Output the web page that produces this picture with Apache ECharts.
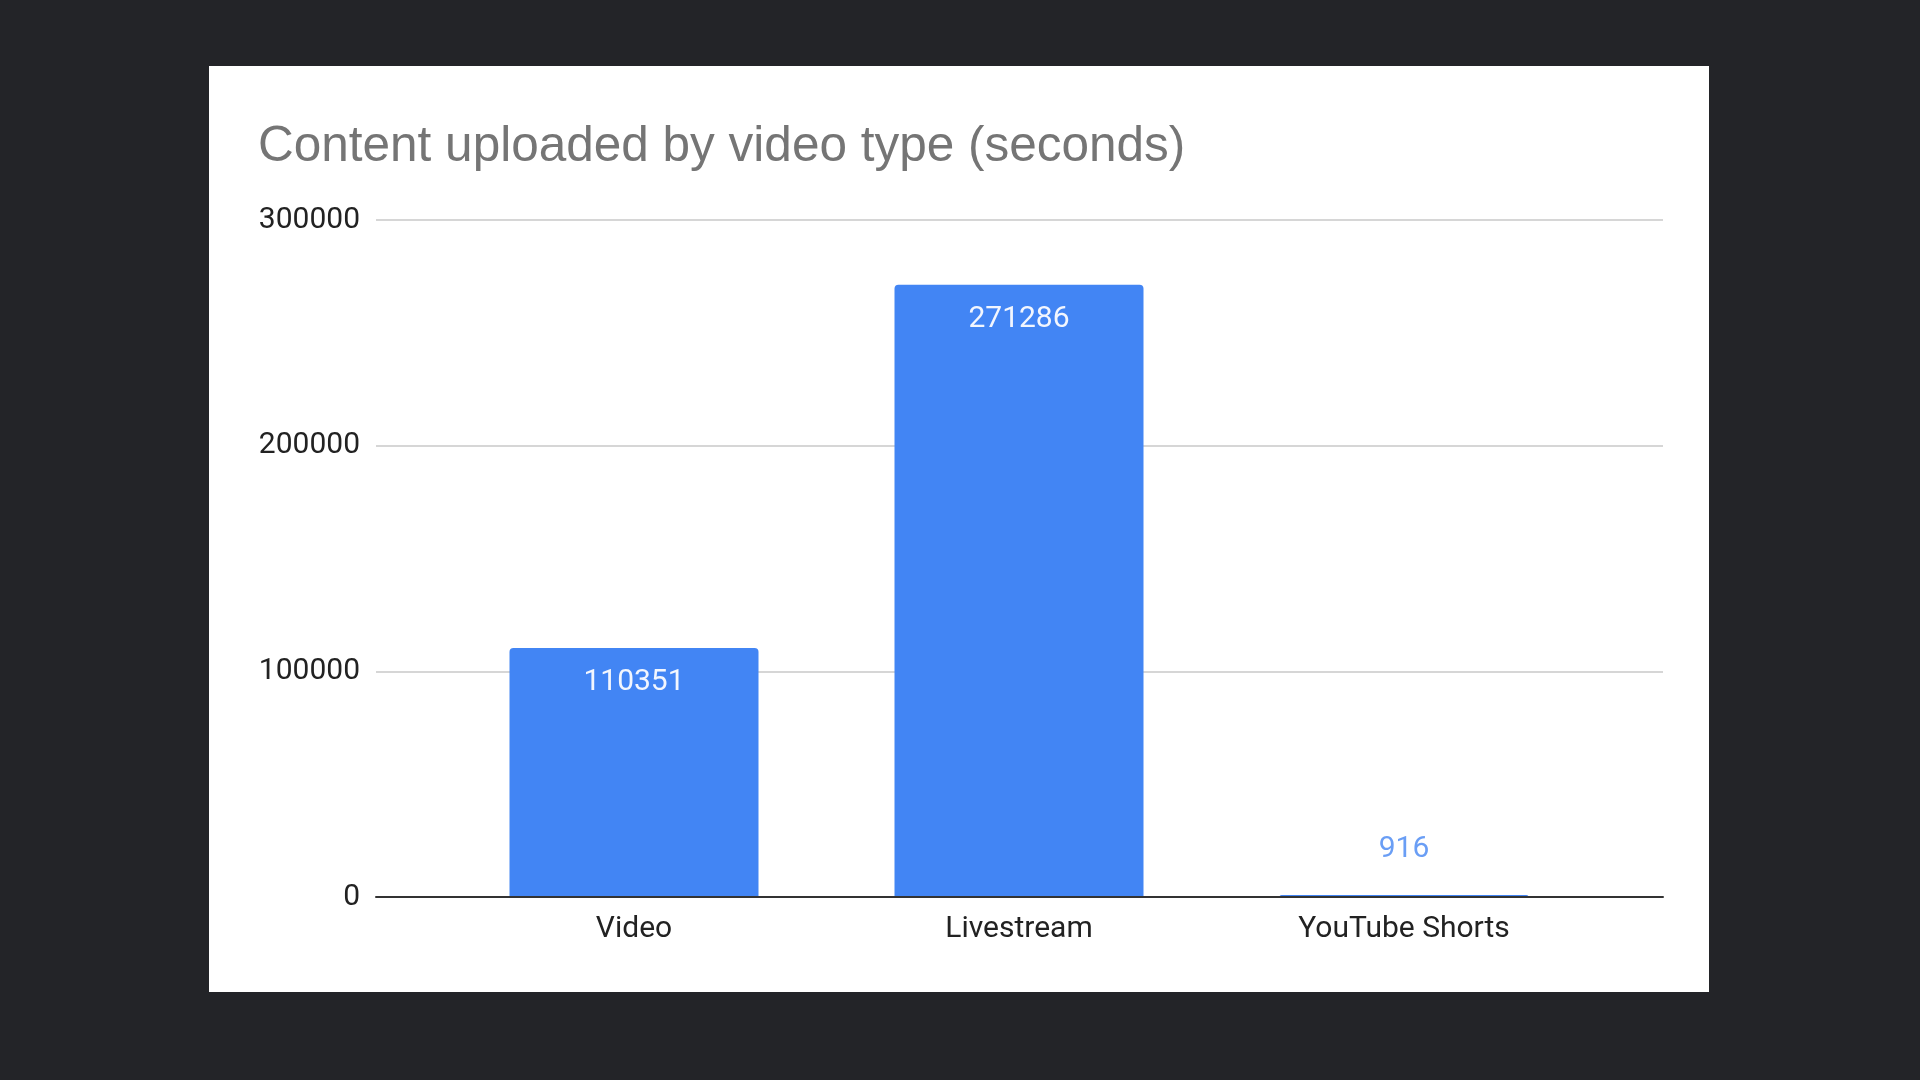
<!DOCTYPE html>
<html>
<head>
<meta charset="utf-8">
<script src="https://cdn.jsdelivr.net/npm/echarts@6/dist/echarts.min.js"></script>
<style>
  html, body { margin: 0; padding: 0; background: #232428; width: 1920px; height: 1080px; overflow: hidden; }
  #panel { position: absolute; left: 209px; top: 66px; width: 1500px; height: 926px; background: #ffffff; }
  #chart { position: absolute; left: 0; top: 0; width: 1920px; height: 1080px; }
</style>
</head>
<body>
<div id="panel"></div>
<div id="chart"></div>
<script>
const titleText = 'Content uploaded by video type (seconds)';
const categories = ['Video', 'Livestream', 'YouTube Shorts'];
const values = [110351, 271286, 916];
const yTicks = [0, 100000, 200000, 300000];

const chart = echarts.init(document.getElementById('chart'), null, { renderer: 'canvas' });

const barData = values.map(function (v) {
  if (v < 20000) {
    return {
      value: v,
      label: { position: 'top', distance: 30, color: '#6a9ef5' }
    };
  }
  return v;
});

const option = {
  backgroundColor: 'transparent',
  animation: false,
  title: {
    text: titleText,
    left: 253,
    top: 117,
    textStyle: { fontFamily: 'Liberation Sans, Arial, sans-serif', fontSize: 49.5, fontWeight: 'normal', color: '#757575' }
  },
  grid: [
    { left: 376, right: 257, top: 220, bottom: 183 },
    { left: 441.5, right: 323.5, top: 220, bottom: 183 }
  ],
  xAxis: [
    {
      gridIndex: 0, type: 'value', min: 0, max: 1, z: 5,
      axisLine: { show: true, lineStyle: { color: '#333333', width: 2 } },
      axisTick: { show: false }, axisLabel: { show: false }, splitLine: { show: false }
    },
    {
      gridIndex: 1, type: 'category', data: categories,
      axisLine: { show: false }, axisTick: { show: false },
      axisLabel: { margin: 17, fontFamily: 'Roboto, sans-serif', fontSize: 30, color: '#222222' }
    }
  ],
  yAxis: [
    {
      gridIndex: 0, type: 'value', min: yTicks[0], max: yTicks[yTicks.length - 1], interval: 100000,
      axisLine: { show: false }, axisTick: { show: false },
      axisLabel: {
        margin: 16, fontFamily: 'Roboto, sans-serif', fontSize: 30, color: '#222222',
        padding: [5, 0, 0, 0],
        formatter: function (v) { return String(v); }
      },
      splitLine: { lineStyle: { color: '#d6d6d6', width: 2 } }
    },
    {
      gridIndex: 1, type: 'value', min: yTicks[0], max: yTicks[yTicks.length - 1], show: false
    }
  ],
  series: [
    {
      type: 'bar', xAxisIndex: 1, yAxisIndex: 1,
      data: barData,
      barWidth: 249,
      itemStyle: { color: '#4285f4', borderRadius: [4, 4, 0, 0] },
      label: {
        show: true, position: 'insideTop', distance: 20,
        fontFamily: 'Roboto, sans-serif', fontSize: 30, color: '#f2f6fe'
      }
    }
  ]
};
chart.setOption(option);
</script>
</body>
</html>
